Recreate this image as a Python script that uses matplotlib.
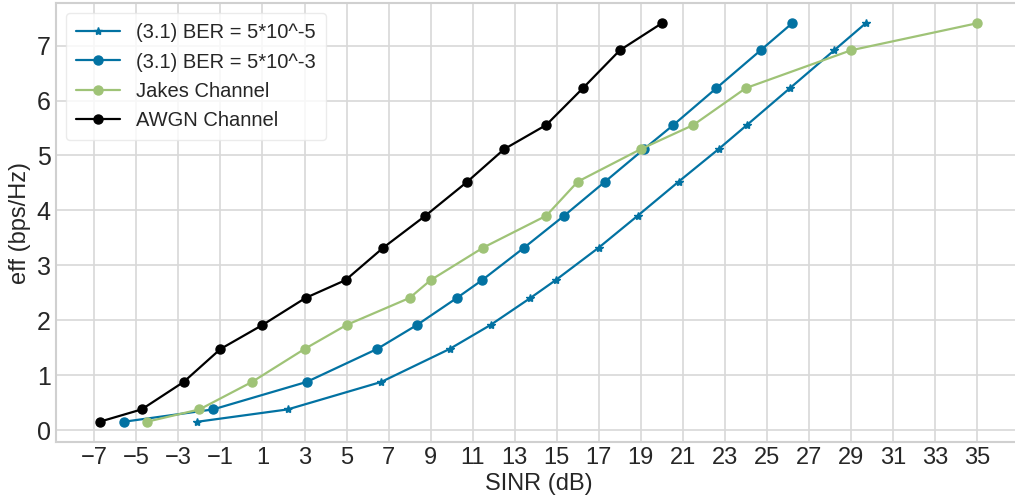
import numpy as np
import matplotlib
matplotlib.use("Agg")
import matplotlib.pyplot as plt

# spectral efficiency levels (bps/Hz)
eff = [0.1523, 0.3770, 0.8770, 1.4766, 1.9141, 2.4063, 2.7305, 3.3223,
       3.9023, 4.5234, 5.1152, 5.5547, 6.2266, 6.9141, 7.4063]

# SINR thresholds (dB) for each curve
sinr_ber_5e5 = [-2.1, 2.2, 6.65, 9.9, 11.85, 13.75, 14.95, 17.0, 18.85,
                20.8, 22.7, 24.05, 26.1, 28.2, 29.7]
sinr_ber_5e3 = [-5.6, -1.35, 3.1, 6.45, 8.35, 10.25, 11.45, 13.45, 15.35,
                17.3, 19.15, 20.55, 22.6, 24.7, 26.2]
sinr_jakes = [-4.5, -2.0, 0.5, 3.0, 5.0, 8.0, 9.0, 11.5, 14.5,
              16.0, 19.0, 21.5, 24.0, 29.0, 35.0]
sinr_awgn = [-6.75, -4.75, -2.75, -1.0, 1.0, 3.05, 4.95, 6.75, 8.75,
             10.75, 12.5, 14.5, 16.25, 18.0, 20.0]

blue = "#0272a2"
green = "#9fc377"

plt.style.use("seaborn-v0_8-whitegrid")
plt.rcParams["font.family"] = ["Liberation Sans", "DejaVu Sans"]
plt.rcParams["axes.edgecolor"] = "#d0d0d0"
plt.rcParams["grid.color"] = "#d8d8d8"

fig = plt.figure(figsize=(10.15, 5.03), dpi=100)
ax = fig.add_axes([0.0549, 0.1219, 0.951, 0.8715])

ax.plot(sinr_ber_5e5, eff, marker="*", color=blue, lw=1.6, ms=6,
        label="(3.1) BER = 5*10^-5")
ax.plot(sinr_ber_5e3, eff, marker="o", color=blue, lw=1.6, ms=6.5,
        label="(3.1) BER = 5*10^-3")
ax.plot(sinr_jakes, eff, marker="o", color=green, lw=1.6, ms=6.5,
        label="Jakes Channel")
ax.plot(sinr_awgn, eff, marker="o", color="black", lw=1.6, ms=6.5,
        label="AWGN Channel")

ax.set_xticks(np.arange(-7, 36, 2))
ax.set_yticks(range(0, 8))
ax.tick_params(axis="x", labelsize=17, colors="#262626")
ax.tick_params(axis="y", labelsize=18, colors="#262626")
ax.set_xlabel("SINR (dB)", fontsize=17, color="#262626", labelpad=3)
ax.set_ylabel("eff (bps/Hz)", fontsize=17, color="#262626", labelpad=4)
ax.grid(True, lw=1.2)
for s in ax.spines.values():
    s.set_linewidth(1.5)

ax.legend(loc="upper left", fontsize=14.5, frameon=True, framealpha=0.8,
          facecolor="white", edgecolor="#e6e6e6", borderpad=0.5,
          labelspacing=0.5, handlelength=2.2)

fig.savefig("out.png", dpi=100)
